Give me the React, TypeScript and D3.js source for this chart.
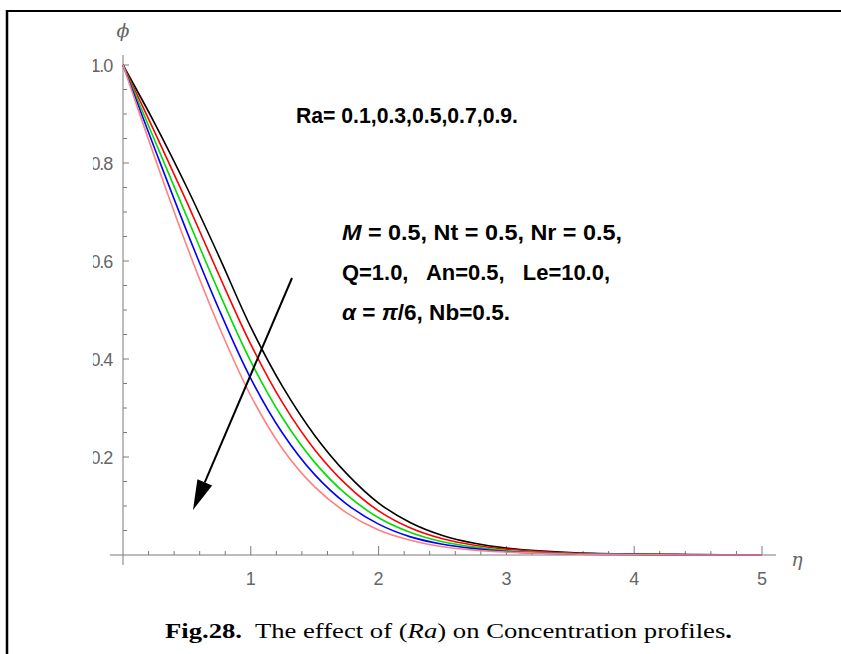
import React from "react";
import * as d3 from "d3";

const etaGrid = [0, 0.25, 0.5, 0.75, 1, 1.25, 1.5, 1.75, 2, 2.25, 2.5, 2.75, 3, 3.5, 4, 4.5, 5];
const phiRa01 = [1, 0.88, 0.75, 0.61, 0.465, 0.343, 0.244, 0.166, 0.106, 0.066, 0.04, 0.024, 0.014, 0.005, 0.002, 0.001, 0];
const phiRa03 = [1, 0.862, 0.72, 0.572, 0.43, 0.31, 0.215, 0.143, 0.09, 0.055, 0.033, 0.02, 0.012, 0.004, 0.0015, 0.0005, 0];
const phiRa05 = [1, 0.845, 0.69, 0.537, 0.395, 0.279, 0.189, 0.123, 0.076, 0.046, 0.027, 0.016, 0.009, 0.003, 0.001, 0.0005, 0];
const phiRa07 = [1, 0.828, 0.66, 0.502, 0.36, 0.248, 0.164, 0.104, 0.063, 0.037, 0.022, 0.013, 0.007, 0.002, 0.001, 0, 0];
const phiRa09 = [1, 0.81, 0.63, 0.467, 0.325, 0.216, 0.139, 0.086, 0.051, 0.03, 0.017, 0.01, 0.006, 0.002, 0.001, 0, 0];
const seriesColors = ["#000000", "#ff0000", "#00dd00", "#0000ff", "#ff8080"];
const xTickLabels = [1, 2, 3, 4, 5];
const yTickLabels = [0.2, 0.4, 0.6, 0.8, 1.0];

export default function App() {
  const W = 841, H = 654;
  const x = d3.scaleLinear().domain([0, 5]).range([123, 762]);
  const y = d3.scaleLinear().domain([0, 1]).range([555, 65]);
  const series = [phiRa01, phiRa03, phiRa05, phiRa07, phiRa09];
  const line = d3
    .line<number>()
    .x((_, i) => x(etaGrid[i]))
    .y((d) => y(d))
    .curve(d3.curveCatmullRom.alpha(0.5));
  const axisColor = "#7a7a7a";
  const labelColor = "#666666";
  const xMinor = d3.range(1, 26).map((i) => i * 0.2);
  const yMinor = d3.range(1, 21).map((i) => i * 0.05);
  const tickFont = "'Liberation Sans', Arial, sans-serif";
  const boldFont = "'Liberation Sans', Arial, sans-serif";

  // arrow geometry (annotation)
  const ax0 = 292, ay0 = 278, ax1 = 193, ay1 = 510;
  const ang = Math.atan2(ay1 - ay0, ax1 - ax0);
  const hl = 30, hw = 8;
  const bx = ax1 - hl * Math.cos(ang), by = ay1 - hl * Math.sin(ang);
  const px = -Math.sin(ang), py = Math.cos(ang);
  const head = `M${ax1},${ay1} L${bx + px * hw},${by + py * hw} L${bx - px * hw},${by - py * hw} Z`;

  return (
    <svg width={W} height={H} style={{ position: "fixed", left: 0, top: 0, display: "block", background: "#fff" }}>
      <defs>
        <clipPath id="lblclip">
          <rect x={93} y={0} width={W} height={H} />
        </clipPath>
      </defs>
      <rect x={0} y={0} width={W} height={H} fill="#fff" />
      {/* frame */}
      <line x1={7} y1={11} x2={W} y2={11} stroke="#000" strokeWidth={2} />
      <line x1={7} y1={11.5} x2={92} y2={11.5} stroke="#000" strokeWidth={1} />
      <line x1={7} y1={10} x2={7} y2={H} stroke="#000" strokeWidth={2.5} />

      {/* axes */}
      <line x1={110} y1={y(0)} x2={776} y2={y(0)} stroke={axisColor} strokeWidth={1} />
      <line x1={x(0)} y1={55} x2={x(0)} y2={565} stroke={axisColor} strokeWidth={1} />
      {xMinor.map((t, i) => {
        const major = Math.abs(t - Math.round(t)) < 1e-6;
        return (
          <line key={"xt" + i} x1={x(t)} x2={x(t)} y1={y(0)} y2={y(0) - (major ? 9 : 4)} stroke={axisColor} strokeWidth={1} />
        );
      })}
      {yMinor.map((t, i) => {
        const major = Math.abs(t * 5 - Math.round(t * 5)) < 1e-6;
        return (
          <line key={"yt" + i} x1={x(0)} x2={x(0) + (major ? 6 : 4)} y1={y(t)} y2={y(t)} stroke={axisColor} strokeWidth={1} />
        );
      })}
      {xTickLabels.map((t) => (
        <text key={"xl" + t} x={x(t)} y={585} textAnchor="middle" fontFamily={tickFont} fontSize={18} fill={labelColor}>
          {t}
        </text>
      ))}
      <g clipPath="url(#lblclip)">
        {yTickLabels.map((t) => (
          <text key={"yl" + t} x={112} y={y(t) + 6.5} textAnchor="end" fontFamily={tickFont} fontSize={18} letterSpacing={-1.2} fill={labelColor}>
            {t.toFixed(1)}
          </text>
        ))}
      </g>
      <text x={x(0)} y={37} textAnchor="middle" fontFamily="'DejaVu Serif', serif" fontStyle="italic" fontSize={19} fill={labelColor}>
        ϕ
      </text>
      <text x={797} y={566} textAnchor="middle" fontFamily="'DejaVu Serif', serif" fontStyle="italic" fontSize={19} fill={labelColor}>
        η
      </text>

      {/* curves */}
      {series.map((s, i) => (
        <path key={"s" + i} d={line(s) || ""} fill="none" stroke={seriesColors[i]} strokeWidth={1.6} />
      ))}

      {/* arrow */}
      <line x1={ax0} y1={ay0} x2={bx} y2={by} stroke="#000" strokeWidth={2} />
      <path d={head} fill="#000" />

      {/* annotations */}
      <text x={296} y={123} fontFamily={boldFont} fontWeight="bold" fontSize={22} fill="#000" textLength={222} lengthAdjust="spacingAndGlyphs">
        Ra= 0.1,0.3,0.5,0.7,0.9.
      </text>
      <text x={342} y={240} fontFamily={boldFont} fontWeight="bold" fontSize={22} fill="#000" textLength={280} lengthAdjust="spacingAndGlyphs" style={{ whiteSpace: "pre" }}>
        <tspan fontStyle="italic">M</tspan>{" = 0.5, Nt = 0.5, Nr = 0.5,"}
      </text>
      <text x={342} y={280} fontFamily={boldFont} fontWeight="bold" fontSize={22} fill="#000" textLength={268} lengthAdjust="spacingAndGlyphs" style={{ whiteSpace: "pre" }}>
        {"Q=1.0,   An=0.5,   Le=10.0,"}
      </text>
      <text x={342} y={320} fontFamily={boldFont} fontWeight="bold" fontSize={22} fill="#000" textLength={168} lengthAdjust="spacingAndGlyphs" style={{ whiteSpace: "pre" }}>
        <tspan fontStyle="italic">α</tspan>{" = "}<tspan fontStyle="italic">π</tspan>{"/6, Nb=0.5."}
      </text>

      {/* caption */}
      <text x={165} y={638} fontFamily="'Liberation Serif', 'Times New Roman', serif" fontSize={22} fill="#000" textLength={567} lengthAdjust="spacingAndGlyphs" style={{ whiteSpace: "pre" }}>
        <tspan fontWeight="bold">Fig.28.</tspan>
        {"  The effect of ("}
        <tspan fontStyle="italic">Ra</tspan>
        {") on Concentration profiles"}
        <tspan fontWeight="bold">.</tspan>
      </text>
    </svg>
  );
}
